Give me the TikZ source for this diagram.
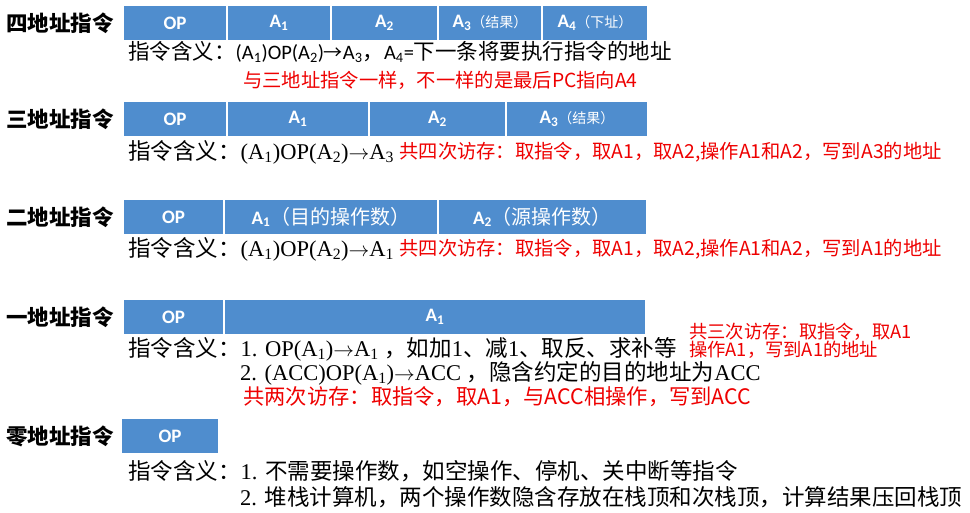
\documentclass[tikz,border=0pt]{standalone}
\usepackage{fontspec}
\setmainfont{Liberation Serif}
\newfontfamily\cjk{Noto Sans CJK SC}
\newfontfamily\calfont{Carlito}
\usetikzlibrary{positioning}
\definecolor{barblue}{RGB}{79,141,206}
\definecolor{notered}{RGB}{238,0,0}
\newcommand{\lo}[1]{\textsubscript{#1}}
\newcommand{\tagcn}[1]{{\cjk\mdseries\fontsize{14}{14}\selectfont #1}}
\newcommand{\tm}[1]{{\rmfamily\fontsize{22.5}{24}\selectfont #1}}
\newcommand{\goes}{\ensuremath{\rightarrow}}

\begin{document}
\begin{tikzpicture}[
    x=1pt, y=-1pt,
    cell/.style={
        rectangle, fill=barblue, draw=white, line width=1pt,
        minimum width=#1, minimum height=35pt, inner sep=0pt,
        text=white, font=\calfont\bfseries\fontsize{19}{19}\selectfont
    },
    cell/.default={100pt},
    kind/.style={font=\cjk\bfseries\fontsize{21.5}{22}\selectfont, inner sep=0pt, anchor=east},
    mean/.style={font=\cjk\fontsize{22.5}{24}\selectfont, inner sep=0pt, anchor=west},
    note/.style={font=\cjk\fontsize{19.3}{19}\selectfont, text=notered, inner sep=0pt, anchor=west}
]
\useasboundingbox (0,0) rectangle (970,512);

% four-address instruction
\node[cell=103pt, anchor=north west] (f_op) at (123,5) {OP};
\node[cell=103pt, right=0pt of f_op] (f_a1) {A\lo{1}};
\node[cell=106pt, right=0pt of f_a1] (f_a2) {A\lo{2}};
\node[cell=103pt, right=0pt of f_a2] (f_a3) {A\lo{3}\tagcn{（结果）}};
\node[cell=105pt, right=0pt of f_a3] (f_a4) {A\lo{4}\tagcn{（下址）}};
\node[kind, left=9pt of f_op] (f_kind) {四地址指令};
\node[mean, font=\cjk\fontsize{21.5}{24}\selectfont] (f_mean) at (128,52) {指令含义：{\calfont\fontsize{20.5}{24}\selectfont (A\lo{1})OP(A\lo{2})}{\fontsize{19}{24}\selectfont →}{\calfont\fontsize{20.5}{24}\selectfont A\lo{3}}，{\calfont\fontsize{20.5}{24}\selectfont A\lo{4}=}下一条将要执行指令的地址};
\node[note] (f_note) at (243,80) {与三地址指令一样，不一样的是最后PC指向A4};

% three-address instruction
\node[cell=103pt, anchor=north west] (t_op) at (123,101) {OP};
\node[cell=141pt, right=0pt of t_op] (t_a1) {A\lo{1}};
\node[cell=136pt, right=0pt of t_a1] (t_a2) {A\lo{2}};
\node[cell=141pt, right=0pt of t_a2] (t_a3) {A\lo{3}\tagcn{（结果）}};
\node[kind, left=9pt of t_op] (t_kind) {三地址指令};
\node[mean] (t_mean) at (128,152) {指令含义：\tm{(A\lo{1})OP(A\lo{2})\goes A\lo{3}}};
\node[note, right=5pt of t_mean] (t_note) {共四次访存：取指令，取A1，取A2,操作A1和A2，写到A3的地址};

% two-address instruction
\node[cell=100pt, anchor=north west] (s_op) at (123,199) {OP};
\node[cell=213pt, right=0pt of s_op] (s_a1) {A\lo{1}{\mdseries\cjk\fontsize{20}{20}\selectfont （目的操作数）}};
\node[cell=208pt, right=0pt of s_a1] (s_a2) {A\lo{2}{\mdseries\cjk\fontsize{20}{20}\selectfont （源操作数）}};
\node[kind, left=9pt of s_op] (s_kind) {二地址指令};
\node[mean] (s_mean) at (128,249) {指令含义：\tm{(A\lo{1})OP(A\lo{2})\goes A\lo{1}}};
\node[note, right=5pt of s_mean] (s_note) {共四次访存：取指令，取A1，取A2,操作A1和A2，写到A1的地址};

% one-address instruction
\node[cell=100pt, anchor=north west] (o_op) at (123,299) {OP};
\node[cell=421pt, right=0pt of o_op] (o_a1) {A\lo{1}};
\node[kind, left=9pt of o_op] (o_kind) {一地址指令};
\node[mean] (o_mean) at (128,349) {指令含义：\tm{1. OP(A\lo{1})\goes A\lo{1} }，如加\tm{1}、减\tm{1}、取反、求补等};
\node[mean] (o_mean2) at (240,373) {\tm{2. (ACC)OP(A\lo{1})\goes ACC }，隐含约定的目的地址为\tm{ACC}};
\node[note, font=\cjk\fontsize{21.3}{22}\selectfont] (o_note) at (243,397) {共两次访存：取指令，取A1，与ACC相操作，写到ACC};
\node[note, align=left, font=\cjk\fontsize{18.3}{18}\selectfont] (o_note2) at (689,341) {共三次访存：取指令，取A1\\操作A1，写到A1的地址};

% zero-address instruction
\node[cell=97pt, anchor=north west] (z_op) at (121,418) {OP};
\node[kind, left=7pt of z_op] (z_kind) {零地址指令};
\node[mean] (z_mean) at (128,471) {指令含义：\tm{1. }不需要操作数，如空操作、停机、关中断等指令};
\node[mean] (z_mean2) at (240,497) {\tm{2. }堆栈计算机，两个操作数隐含存放在栈顶和次栈顶，计算结果压回栈顶};

\end{tikzpicture}
\end{document}
